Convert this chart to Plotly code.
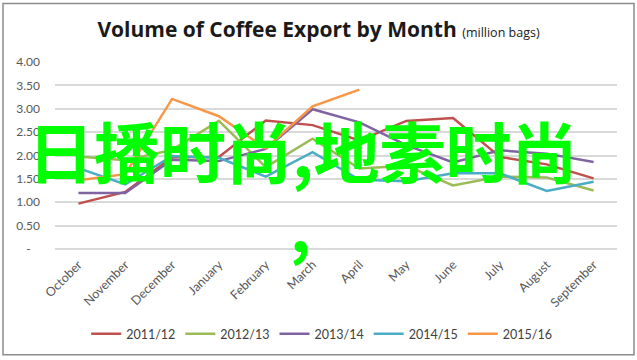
import plotly.graph_objects as go

months = ["October", "November", "December", "January", "February", "March",
          "April", "May", "June", "July", "August", "September"]
series_names = ["2011/12", "2012/13", "2013/14", "2014/15", "2015/16"]
s_2011_12 = [0.97, 1.22, 1.96, 1.97, 2.75, 2.65, 2.32, 2.74, 2.80, 1.97, 1.81, 1.51]
s_2012_13 = [1.98, 1.90, 2.12, 2.74, 1.75, 2.36, 1.72, 1.78, 1.36, 1.55, 1.53, 1.25]
s_2013_14 = [1.20, 1.20, 1.91, 1.88, 2.14, 2.99, 2.71, 2.22, 1.85, 2.11, 2.04, 1.86]
s_2014_15 = [1.73, 1.38, 1.99, 1.95, 1.55, 2.07, 1.48, 1.45, 1.62, 1.62, 1.24, 1.44]
s_2015_16 = [1.47, 1.60, 3.21, 2.84, 2.15, 3.05, 3.41, None, None, None, None, None]
colors = ["#C0504D", "#9BBB59", "#8064A2", "#4BACC6", "#F79646"]
ytick_vals = [0, 0.5, 1.0, 1.5, 2.0, 2.5, 3.0, 3.5, 4.0]
ytick_text = ["-\u00a0\u00a0\u00a0", "0.50", "1.00", "1.50", "2.00", "2.50", "3.00", "3.50", "4.00"]

FONT = "Lato"
fig = go.Figure()
for name, vals, col in zip(series_names,
                           [s_2011_12, s_2012_13, s_2013_14, s_2014_15, s_2015_16],
                           colors):
    fig.add_trace(go.Scatter(x=months, y=vals, name=name, mode="lines",
                             line=dict(color=col, width=2.5), connectgaps=False,
                             hoverinfo="skip"))

fig.update_layout(
    width=637, height=360,
    margin=dict(l=55, r=20, t=62, b=111, autoexpand=False),
    paper_bgcolor="white", plot_bgcolor="white",
    font=dict(family=FONT, color="#404040"),
    title=dict(
        text="<b>Volume of Coffee Export by Month</b> <span style='font-size:12.5px'>(million bags)</span>",
        x=0.5, xref="container", xanchor="center",
        y=1 - 30 / 360, yref="container", yanchor="middle",
        font=dict(family="Open Sans", size=21, color="#1a1a1a"),
    ),
    xaxis=dict(
        showgrid=False, tickangle=-45, ticks="", showline=False,
        tickfont=dict(family=FONT, size=12.5, color="#595959"),
        range=[-0.5, 11.5], fixedrange=True, ticklabelstandoff=5,
        automargin=False,
    ),
    yaxis=dict(
        range=[0, 4.0], tickvals=ytick_vals, ticktext=ytick_text,
        showgrid=True, gridcolor="#D9D9D9", gridwidth=1.5,
        zeroline=True, zerolinecolor="#D9D9D9", zerolinewidth=1.5,
        tickfont=dict(family=FONT, size=12, color="#595959"),
        ticklabelstandoff=14, showline=False, automargin=False,
        fixedrange=True,
    ),
    legend=dict(
        orientation="h", xref="container", x=0.505, xanchor="center",
        y=-0.455, yanchor="middle",
        font=dict(family=FONT, size=12.5, color="#404040"),
        itemwidth=30, tracegroupgap=0,
    ),
    showlegend=True,
)

# chart border
fig.add_shape(type="rect", xref="paper", yref="paper",
              x0=(3 - 55) / 562, x1=(634 - 55) / 562,
              y0=(249 - 355) / 187.3, y1=(249 - 3) / 187.3,
              line=dict(color="#8C8C8C", width=1.5), fillcolor="rgba(0,0,0,0)")

# green overlay text
fig.add_annotation(text="<b>日播时尚,地素时尚</b>", xref="paper", yref="paper",
                   x=(302 - 55) / 562, y=(249 - 149) / 187.3,
                   xanchor="center", yanchor="middle", showarrow=False,
                   font=dict(family="Noto Sans CJK SC", size=66, color="#00FF00"))
fig.add_annotation(text="<b>,</b>", xref="paper", yref="paper",
                   x=(300 - 55) / 562, y=(249 - 224) / 187.3,
                   xanchor="center", yanchor="middle", showarrow=False,
                   font=dict(family="Noto Sans CJK SC", size=64, color="#00FF00"))

fig.write_html("out.html", config={"displayModeBar": False},
               post_script="document.body.style.margin='0';")
